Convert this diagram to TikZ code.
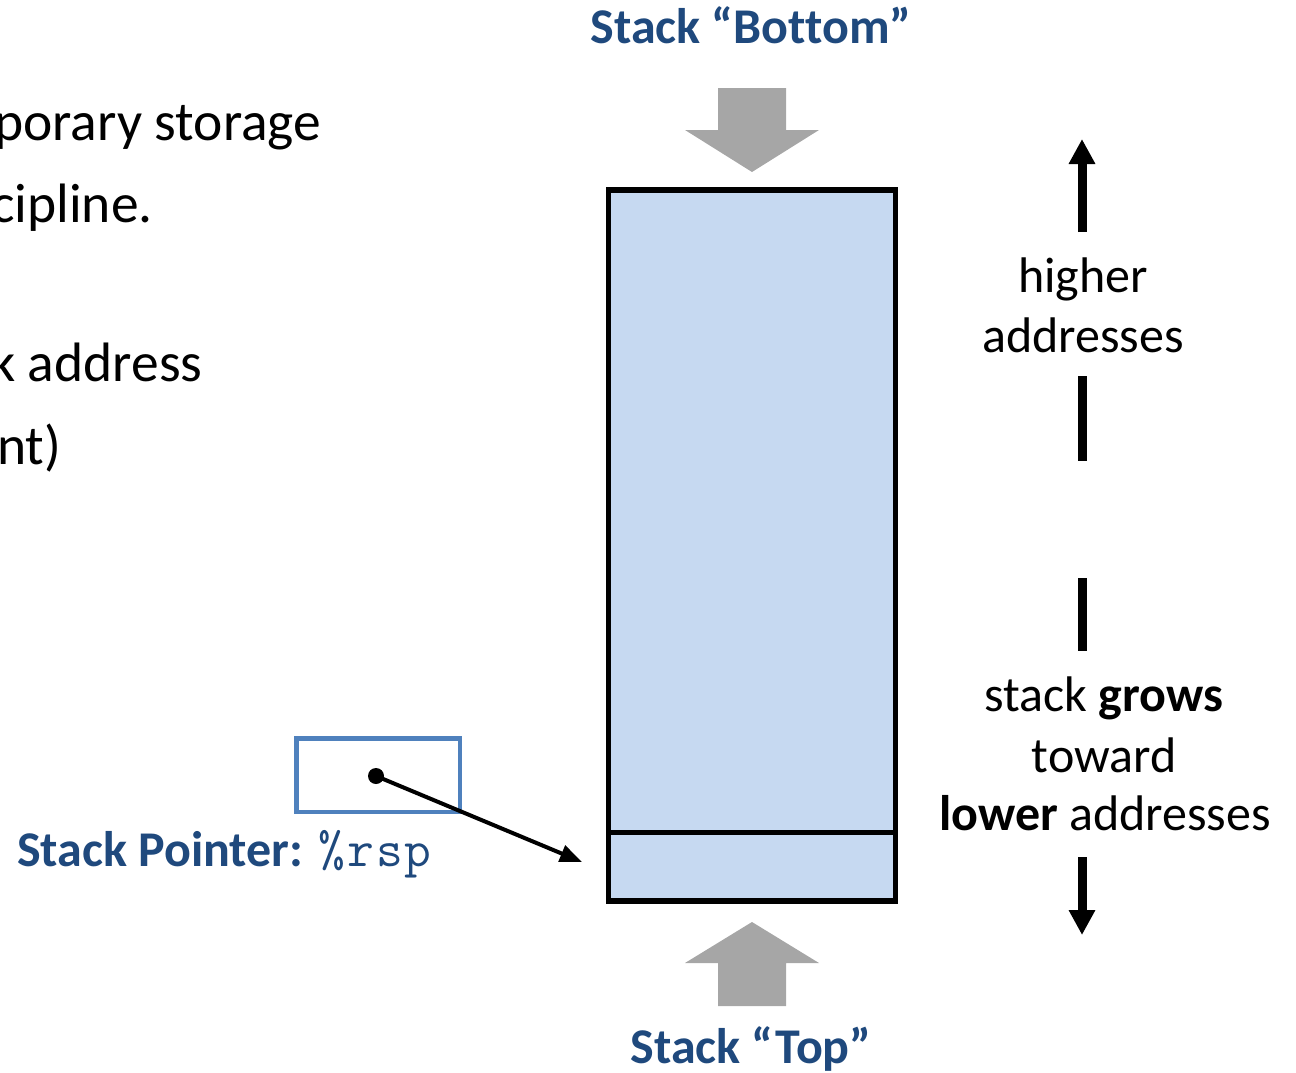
\documentclass[tikz,border=0pt]{standalone}
\usepackage{fontspec}
\setmainfont[Ligatures={TeX,NoCommon}]{Carlito}
\setmonofont[LetterSpace=4]{Latin Modern Mono}
\usetikzlibrary{arrows.meta}
\definecolor{titleblue}{RGB}{31,73,125}
\definecolor{stackfill}{HTML}{C6D9F1}
\definecolor{regblue}{HTML}{4F81BD}
\definecolor{bigarrow}{HTML}{A6A6A6}
\tikzset{
  bodytext/.style={inner sep=0pt, anchor=base, font=\fontsize{50}{60}\selectfont},
  lefttext/.style={inner sep=0pt, anchor=base west, font=\fontsize{55.5}{66}\selectfont},
  titletext/.style={inner sep=0pt, anchor=base, text=titleblue, font=\fontsize{50}{60}\selectfont\bfseries},
  dirline/.style={line width=9pt, black},
  dirarrow/.style={line width=9pt, black, -{Triangle[width=25pt,length=25pt]}},
  grayarrow/.style={fill=bigarrow, draw=none},
}
\begin{document}
\begin{tikzpicture}[x=1pt,y=-1pt]
\useasboundingbox (0,0) rectangle (1296,1073);

% left text fragments
\node[lefttext] (l1) at (-6,140) {porary storage};
\node[lefttext] (l2) at (-9,222) {cipline.};
\node[lefttext] (l3) at (-10,381) {k address};
\node[lefttext] (l4) at (-3,464) {nt)};

% stack
\coordinate (sTL) at (608.5,190);
\coordinate (sBR) at (895.5,901);
\coordinate (dL) at (608.5,832.5);
\coordinate (dR) at (895.5,832.5);
\draw[line width=5.5pt, fill=stackfill] (sTL) rectangle (sBR);
\draw[line width=5.5pt] (dL) -- (dR);

% titles
\node[titletext] (bottom) at (751,44) {Stack “Bottom”};
\node[titletext] (top) at (751,1063) {Stack “Top”};

% gray arrows
\fill[grayarrow] (718,88) -- (786,88) -- (786,130) -- (819,130) -- (752,172) -- (685,130) -- (718,130) -- cycle;
\fill[grayarrow] (718,1006) -- (786,1006) -- (786,963) -- (819,963) -- (752,922) -- (685,963) -- (718,963) -- cycle;

% right side labels
\node[bodytext] (hi1) at (1083,292) {higher};
\node[bodytext] (hi2) at (1083,352) {addresses};
\node[bodytext] (gr1) at (1104,711) {stack \textbf{grows}};
\node[bodytext] (gr2) at (1104,772) {toward};
\node[bodytext] (gr3) at (1105,830) {\textbf{lower} addresses};

\coordinate (upA) at (1082,232);
\coordinate (upB) at (1082,139);
\coordinate (seg1a) at (1082,376);
\coordinate (seg1b) at (1082,461);
\coordinate (seg2a) at (1082,578);
\coordinate (seg2b) at (1082,651);
\coordinate (dnA) at (1082,857);
\coordinate (dnB) at (1082,935);
\draw[dirarrow] (upA) -- (upB);
\draw[dirline] (seg1a) -- (seg1b);
\draw[dirline] (seg2a) -- (seg2b);
\draw[dirarrow] (dnA) -- (dnB);

% stack pointer
\draw[regblue, line width=4.5pt] (296.5,738.5) rectangle (460,812);
\node[titletext, anchor=base west] (sp) at (17,866) {Stack Pointer: \mdseries\ttfamily\fontsize{52}{62}\selectfont \%rsp};
\coordinate (dot) at (376,776);
\coordinate (tip) at (582,862);
\fill (dot) circle (8);
\draw[line width=4pt, -{Triangle[width=17pt,length=22pt]}] (dot) -- (tip);
\end{tikzpicture}
\end{document}
